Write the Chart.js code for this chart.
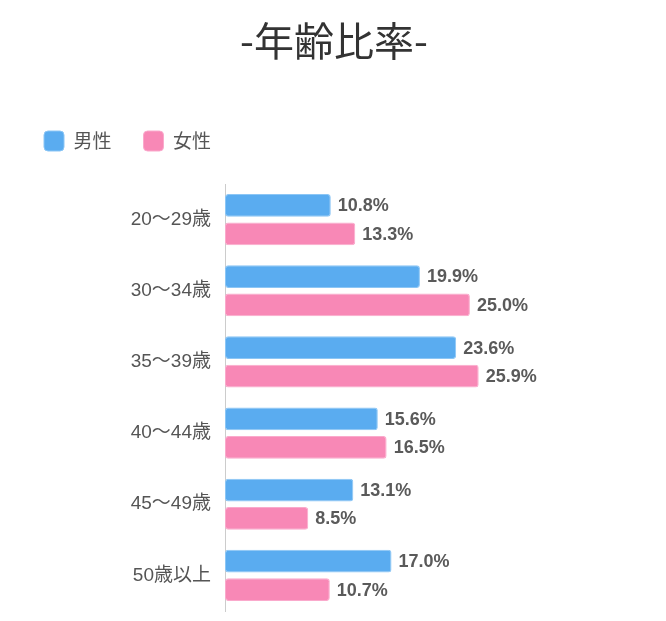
<!DOCTYPE html>
<html>
<head>
<meta charset="utf-8">
<script src="https://cdn.jsdelivr.net/npm/chart.js@4/dist/chart.umd.min.js"></script>
<style>
  html, body { margin: 0; padding: 0; background: #fff; }
  #wrap { width: 666px; height: 621px; }
</style>
</head>
<body>
<div id="wrap"><canvas id="myChart"></canvas></div>
<script>
// age groups (y axis)
var categories = ['20～29歳', '30～34歳', '35～39歳', '40～44歳', '45～49歳', '50歳以上']

// percent per group
var male = [10.8, 19.9, 23.6, 15.6, 13.1, 17.0]
var female = [13.3, 25.0, 25.9, 16.5, 8.5, 10.7]

// draws "12.3%" at the end of each bar
var valueLabels = {
  id: 'valueLabels',
  afterDatasetsDraw: function(chart) {
    var ctx = chart.ctx
    ctx.save()
    ctx.font = 'bold 18px "Liberation Sans", Arial, sans-serif'
    ctx.fillStyle = '#5a5a5a'
    ctx.textAlign = 'left'
    ctx.textBaseline = 'middle'
    chart.data.datasets.forEach(function(ds, i) {
      var meta = chart.getDatasetMeta(i)
      meta.data.forEach(function(bar, j) {
        ctx.fillText(ds.data[j].toFixed(1) + '%', bar.x + 7, bar.y + 1)
      })
    })
    ctx.restore()
  }
}

function drawChart() {
  var ctx = document.getElementById('myChart').getContext('2d')
  var chart = new Chart(ctx, {
    type: 'bar',
    data: {
      labels: categories,
      datasets: [{
        label: '男性',
        data: male,
        backgroundColor: 'rgb(90, 172, 240)',
        borderColor: 'rgb(140, 198, 245)',
        borderWidth: 1,
        borderRadius: 3,
        borderSkipped: false
      }, {
        label: '女性',
        data: female,
        backgroundColor: 'rgb(248, 136, 182)',
        borderColor: 'rgb(250, 170, 204)',
        borderWidth: 1,
        borderRadius: 3,
        borderSkipped: false
      }]
    },
    options: {
      indexAxis: 'y',
      responsive: true,
      maintainAspectRatio: false,
      animation: false,
      categoryPercentage: 0.8,
      barPercentage: 0.8,
      layout: { padding: { left: 12, right: 10, top: 0, bottom: 10 } },
      scales: {
        x: { display: false, min: 0, max: 44 },
        y: {
          grid: { display: false, drawTicks: false },
          border: { display: true, color: '#cccccc', width: 1 },
          ticks: {
            padding: 14,
            color: '#555',
            font: { size: 19, family: '"Liberation Sans", "Noto Sans CJK JP", sans-serif' }
          },
          afterFit: function(scale) {
            scale.width = 213
            // no half-label room above/below the bars
            scale.paddingTop = 0
            scale.paddingBottom = 0
          }
        }
      },
      plugins: {
        title: {
          display: true,
          text: '-年齢比率-',
          color: '#333',
          font: { size: 40, weight: 'normal', family: '"Noto Sans CJK JP", sans-serif' },
          padding: { top: 17, bottom: 34 }
        },
        legend: {
          position: 'top',
          align: 'start',
          labels: {
            boxWidth: 20,
            boxHeight: 20,
            padding: 32,
            useBorderRadius: true,
            borderRadius: 4,
            color: '#555',
            font: { size: 19, family: '"Noto Sans CJK JP", sans-serif' }
          }
        },
        // empty subtitle used as a spacer between legend and bars
        subtitle: {
          display: true,
          text: '',
          weight: 500,
          font: { size: 1, lineHeight: 1 },
          padding: { top: 0, bottom: 22 }
        },
        tooltip: { enabled: false }
      }
    },
    plugins: [valueLabels]
  })
}

drawChart()
</script>
</body>
</html>
